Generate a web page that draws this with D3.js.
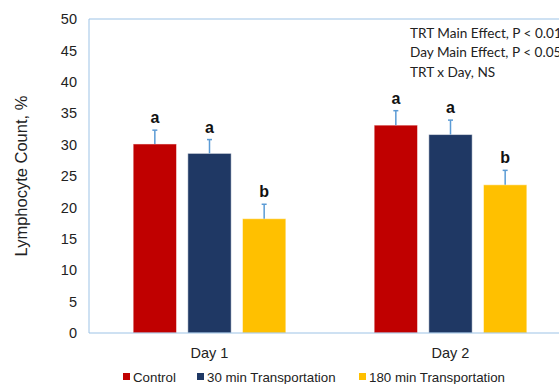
<!DOCTYPE html>
<html><head><meta charset="utf-8">
<script src="https://cdn.jsdelivr.net/npm/d3@7"></script>
<style>body{margin:0;background:#fff}svg{display:block}</style>
</head><body>
<script>
const days = ["Day 1", "Day 2"];
const series = ["Control", "30 min Transportation", "180 min Transportation"];
const colors = ["#C00000", "#1F3864", "#FFC000"];
const means = [[30.1, 28.6, 18.2], [33.1, 31.6, 23.6]];
const errors = [[2.2, 2.2, 2.3], [2.3, 2.3, 2.3]];
const letters = [["a", "a", "b"], ["a", "a", "b"]];
const yTicks = [0, 5, 10, 15, 20, 25, 30, 35, 40, 45, 50];
const notes = ["TRT Main Effect, P < 0.01", "Day Main Effect, P < 0.05", "TRT x Day, NS"];

const W = 559, H = 384;
const m = {left: 89, top: 19, right: -12, bottom: 51};
const svg = d3.select("body").append("svg").attr("width", W).attr("height", H);
const x0 = d3.scaleBand().domain(days).range([m.left, W - m.right]);
const x1 = d3.scaleBand().domain(series).range([0, x0.bandwidth()]).paddingInner(0.207).paddingOuter(0.808);
const y = d3.scaleLinear().domain([0, 50]).range([H - m.bottom, m.top]);

const axisColor = "#9DC3E6";
svg.append("line").attr("x1", m.left).attr("x2", W).attr("y1", y(50)).attr("y2", y(50)).attr("stroke", axisColor).attr("stroke-width", 1);
svg.append("line").attr("x1", m.left).attr("x2", m.left).attr("y1", y(50)).attr("y2", y(0)).attr("stroke", axisColor).attr("stroke-width", 1);

const ya = svg.append("g").attr("transform", `translate(${m.left},0)`)
  .call(d3.axisLeft(y).tickValues(yTicks).tickSize(0).tickPadding(12));
ya.select(".domain").remove();
ya.selectAll("text").attr("font-family", "Liberation Sans, Arial, sans-serif").attr("font-size", 14.5).attr("fill", "#222");

svg.append("text").attr("transform", `translate(27,${(y(0)+y(50))/2}) rotate(-90)`)
  .attr("text-anchor", "middle").attr("font-family", "Liberation Sans, Arial, sans-serif")
  .attr("font-size", 16.5).attr("fill", "#222").text("Lymphocyte Count, %");

const g = svg.append("g");
days.forEach((d, i) => {
  series.forEach((s, j) => {
    const bx = x0(d) + x1(s), bw = x1.bandwidth();
    g.append("rect").attr("x", bx).attr("y", y(means[i][j])).attr("width", bw)
      .attr("height", y(0) - y(means[i][j])).attr("fill", colors[j])
      .attr("stroke", "#ffffff").attr("stroke-opacity", 0.5).attr("stroke-width", 1);
    const cx = bx + bw / 2;
    const top = y(means[i][j] + errors[i][j]);
    g.append("line").attr("x1", cx).attr("x2", cx).attr("y1", y(means[i][j])).attr("y2", top)
      .attr("stroke", "#5B9BD5").attr("stroke-width", 1.5);
    g.append("line").attr("x1", cx - 2.5).attr("x2", cx + 2.5).attr("y1", top).attr("y2", top)
      .attr("stroke", "#5B9BD5").attr("stroke-width", 1.5);
    g.append("text").attr("x", cx).attr("y", top - 7).attr("text-anchor", "middle")
      .attr("font-family", "Liberation Sans, Arial, sans-serif").attr("font-weight", "bold")
      .attr("font-size", 16).attr("fill", "#111").text(letters[i][j]);
  });
});

svg.append("line").attr("x1", m.left).attr("x2", W).attr("y1", y(0)).attr("y2", y(0)).attr("stroke", axisColor).attr("stroke-width", 1);

days.forEach(d => {
  svg.append("text").attr("x", x0(d) + x0.bandwidth() / 2).attr("y", 358).attr("text-anchor", "middle")
    .attr("font-family", "Liberation Sans, Arial, sans-serif").attr("font-size", 14.5).attr("fill", "#222").text(d);
});

const legX = [123, 197, 359];
series.forEach((s, j) => {
  svg.append("rect").attr("x", legX[j]).attr("y", 373).attr("width", 7).attr("height", 7).attr("fill", colors[j]);
  svg.append("text").attr("x", legX[j] + 10).attr("y", 381.5)
    .attr("font-family", "Liberation Sans, Arial, sans-serif").attr("font-size", 13.3).attr("fill", "#222").text(s);
});

notes.forEach((n, k) => {
  svg.append("text").attr("x", 410).attr("y", 37.5 + k * 19.5)
    .attr("font-family", "Lato, Open Sans, sans-serif").attr("font-size", 13.6).attr("fill", "#222").text(n);
});
</script>
</body></html>
